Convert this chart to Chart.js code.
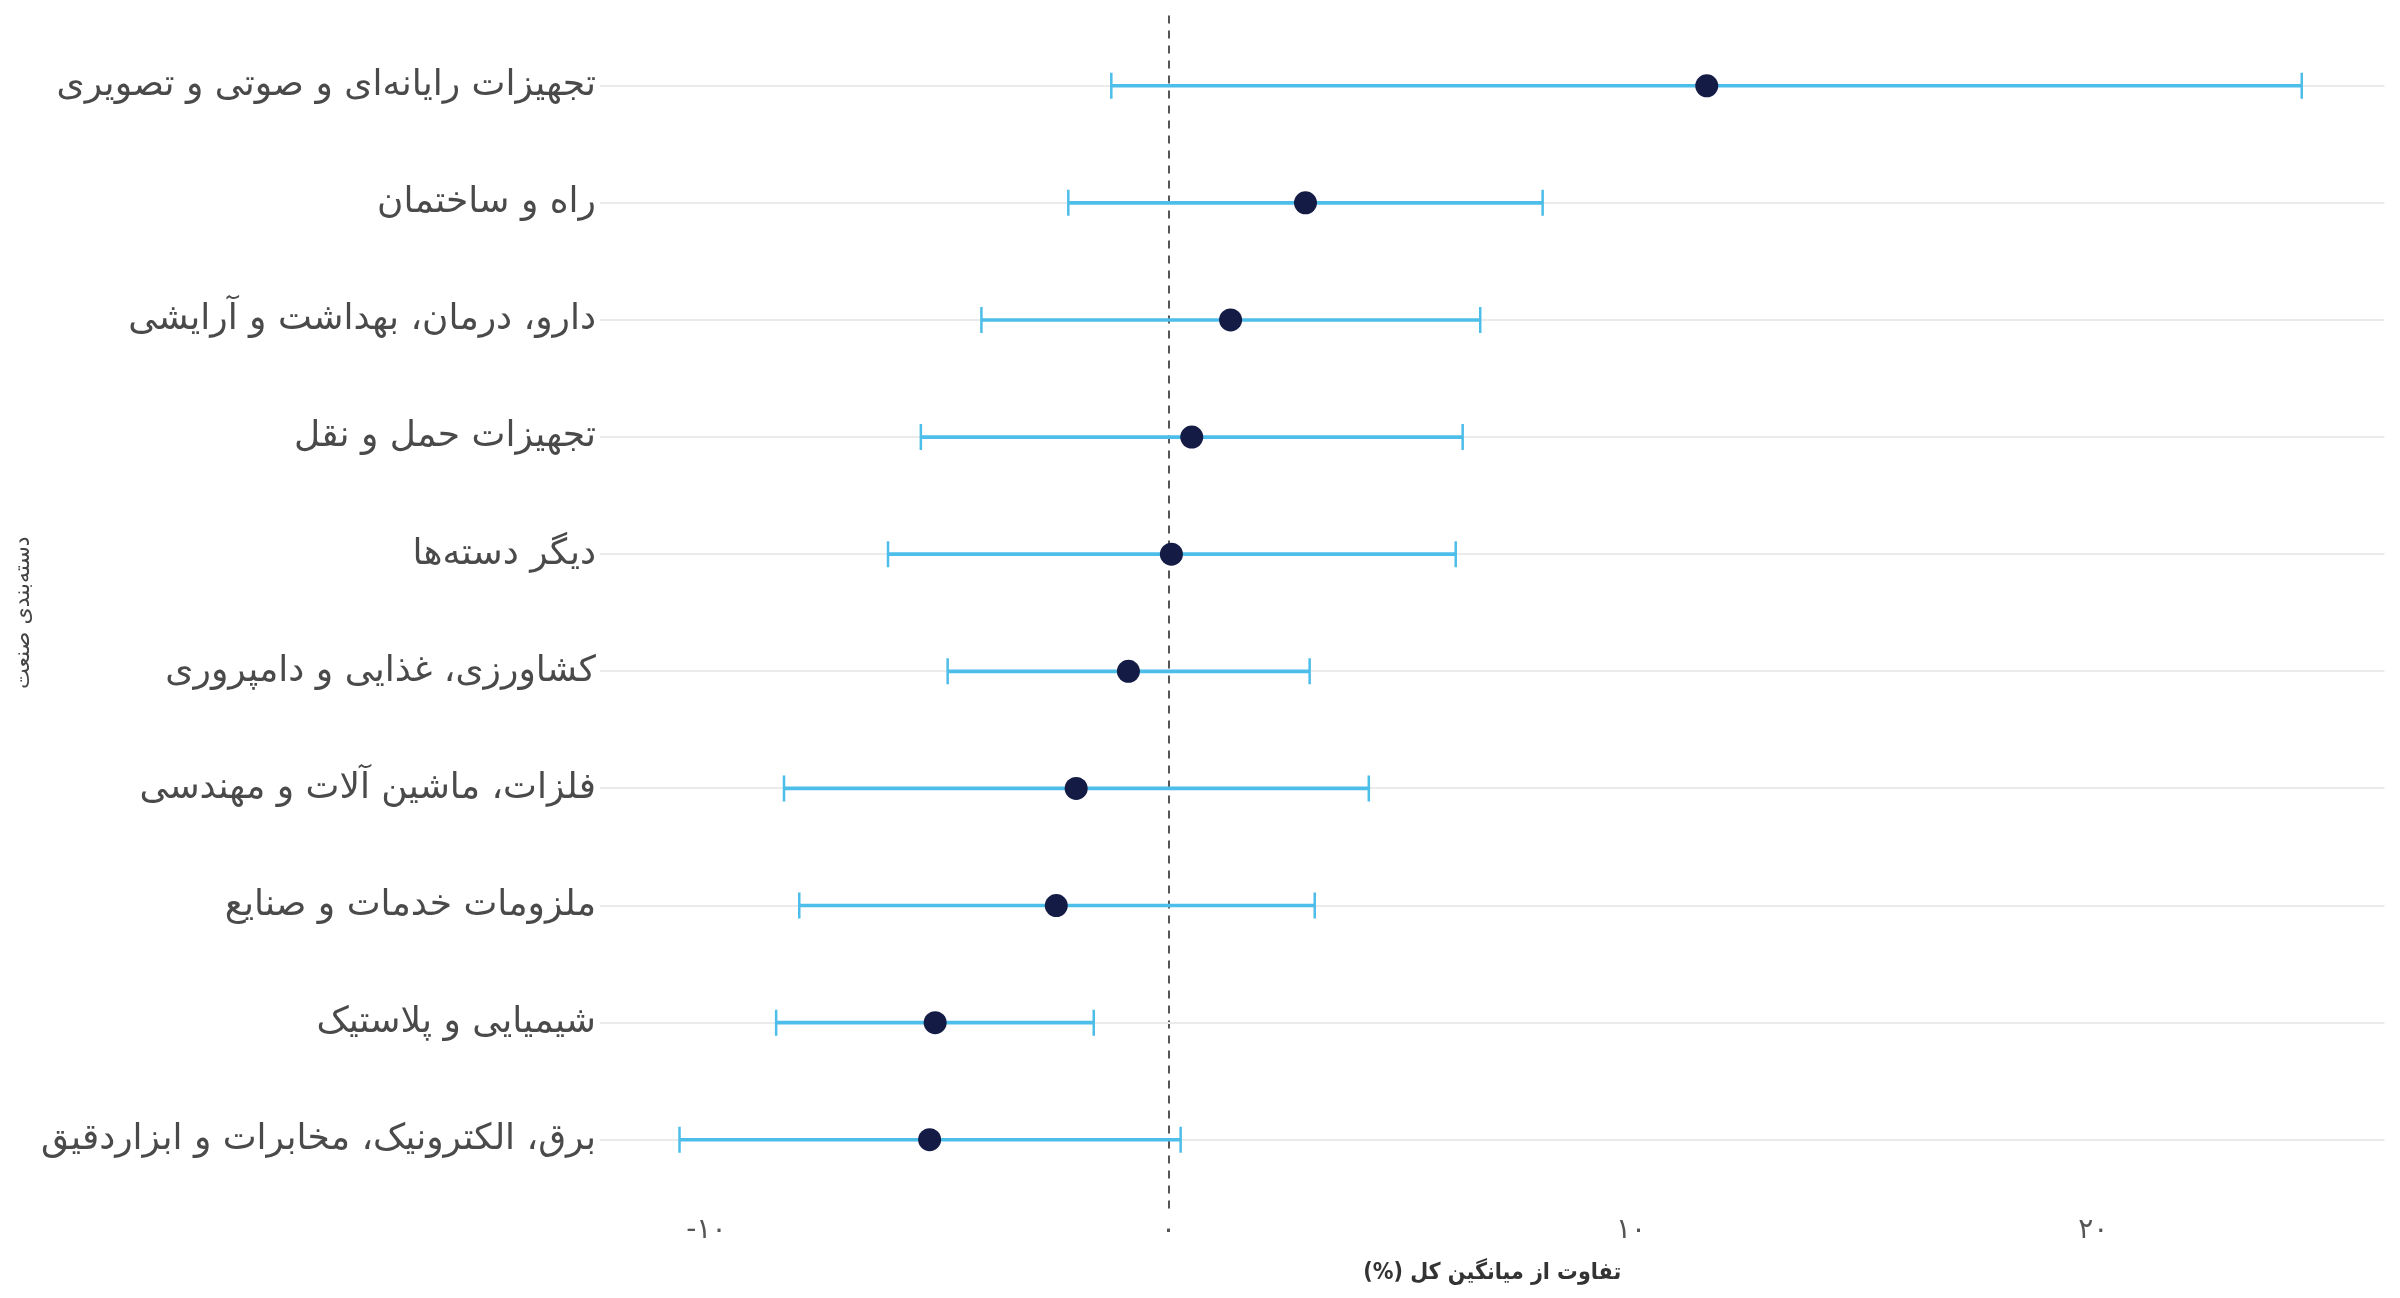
<!DOCTYPE html>
<html>
<head>
<meta charset="utf-8">
<script src="https://cdn.jsdelivr.net/npm/chart.js@4.4.1/dist/chart.umd.min.js"></script>
<style>
  html, body { margin: 0; padding: 0; background: #fff; }
  #wrap { width: 2400px; height: 1298px; position: relative; }
</style>
</head>
<body>
<div id="wrap"><canvas id="myChart"></canvas></div>
<script>
// دسته‌ها از بالا به پایین
const categories = [
  'تجهیزات رایانه‌ای و صوتی و تصویری',
  'راه و ساختمان',
  'دارو، درمان، بهداشت و آرایشی',
  'تجهیزات حمل و نقل',
  'دیگر دسته‌ها',
  'کشاورزی، غذایی و دامپروری',
  'فلزات، ماشین آلات و مهندسی',
  'ملزومات خدمات و صنایع',
  'شیمیایی و پلاستیک',
  'برق، الکترونیک، مخابرات و ابزاردقیق'
];
const lows  = [-1.24, -2.17, -4.05, -5.36, -6.07, -4.78, -8.32, -7.99, -8.49, -10.58];
const means = [11.64,  2.96,  1.34,  0.50,  0.06, -0.87, -2.00, -2.43, -5.05, -5.17];
const highs = [24.51,  8.09,  6.74,  6.36,  6.21,  3.05,  4.33,  3.16, -1.62,  0.26];

const xTicks = [-10, 0, 10, 20];
const xTickLabels = ['-۱۰', '۰', '۱۰', '۲۰'];

const xTitle = 'تفاوت از میانگین کل (%)';
const yTitle = 'دسته‌بندی صنعت';

const arabicFont = '"DejaVu Sans", "Noto Sans", sans-serif';
const blue = '#4dbde9';
const navy = '#141b45';

const ctx = document.getElementById('myChart').getContext('2d');

const config = {
  type: 'scatter',
  data: {
    datasets: [
      {
        type: 'bar',
        indexAxis: 'y',
        data: categories.map((c, i) => ({ y: i, x: [lows[i], highs[i]] })),
        backgroundColor: blue,
        barThickness: 3,
        order: 3
      },
      {
        type: 'scatter',
        data: lows.map((v, i) => ({ x: v, y: i })).concat(highs.map((v, i) => ({ x: v, y: i }))),
        pointStyle: 'line',
        rotation: 90,
        pointRadius: 13,
        borderColor: blue,
        borderWidth: 2.5,
        order: 2
      },
      {
        type: 'scatter',
        data: means.map((v, i) => ({ x: v, y: i })),
        pointRadius: 11.5,
        backgroundColor: navy,
        borderColor: navy,
        borderWidth: 0,
        order: 1
      }
    ]
  },
  options: {
    responsive: true,
    maintainAspectRatio: false,
    animation: false,
    events: [],
    layout: { padding: { left: 8, right: 4, top: 6, bottom: 4 } },
    plugins: {
      legend: { display: false },
      tooltip: { enabled: false }
    },
    scales: {
      x: {
        type: 'linear',
        min: -12.3,
        max: 26.3,
        afterBuildTicks: axis => { axis.ticks = xTicks.map(v => ({ value: v })); },
        afterFit: scale => { scale.height = 84; },
        ticks: {
          callback: v => xTickLabels[xTicks.indexOf(v)],
          color: '#555',
          font: { family: arabicFont, size: 28 },
          padding: 4,
          maxRotation: 0
        },
        grid: {
          color: c => (c.tick && c.tick.value === 0 ? '#555' : 'rgba(0,0,0,0)'),
          lineWidth: 2,
          drawTicks: false
        },
        border: { display: false, dash: [8, 7] },
        title: {
          display: true,
          text: xTitle + '\u200F',
          color: '#333',
          font: { family: '"DejaVu Sans Condensed", "DejaVu Sans", sans-serif', size: 23, weight: 'bold' },
          padding: { top: 0, bottom: 7 }
        }
      },
      y: {
        type: 'linear',
        reverse: true,
        offset: false,
        min: -0.6,
        max: 9.6,
        afterBuildTicks: axis => { axis.ticks = categories.map((c, i) => ({ value: i })); },
        afterFit: scale => { scale.width = 592; },
        ticks: {
          callback: v => categories[v],
          color: '#4a4a4a',
          font: { family: arabicFont, size: 36, lineHeight: 0.3 },
          padding: 4
        },
        grid: {
          offset: false,
          color: '#ebebeb',
          lineWidth: 2,
          drawTicks: false
        },
        border: { display: false },
        title: {
          display: true,
          text: yTitle,
          color: '#444',
          font: { family: arabicFont, size: 22 },
          padding: { top: 2, bottom: 4 }
        }
      }
    }
  }
};

new Chart(ctx, config);
</script>
</body>
</html>
